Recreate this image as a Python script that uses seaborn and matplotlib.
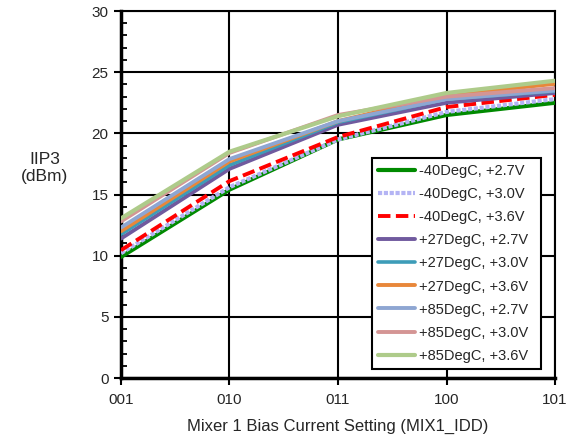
import matplotlib
matplotlib.use("Agg")
import matplotlib.pyplot as plt
import seaborn as sns
import numpy as np
import pandas as pd
from matplotlib.ticker import MultipleLocator

sns.set_theme(style="white")
plt.rcParams['font.family'] = ['Liberation Sans', 'DejaVu Sans']

categories = ["001", "010", "011", "100", "101"]
series_names = ["-40DegC, +2.7V", "-40DegC, +3.0V", "-40DegC, +3.6V",
                "+27DegC, +2.7V", "+27DegC, +3.0V", "+27DegC, +3.6V",
                "+85DegC, +2.7V", "+85DegC, +3.0V", "+85DegC, +3.6V"]

m40_27 = [9.9, 15.4, 19.5, 21.5, 22.5]
m40_30 = [10.2, 15.6, 19.5, 21.75, 22.8]
m40_36 = [10.45, 16.1, 19.7, 22.15, 23.15]
p27_27 = [11.4, 17.1, 20.7, 22.5, 23.3]
p27_30 = [11.75, 17.4, 20.9, 22.8, 23.45]
p27_36 = [12.0, 17.7, 21.0, 23.1, 24.05]
p85_27 = [12.3, 17.9, 21.0, 22.8, 23.5]
p85_30 = [12.8, 18.4, 21.5, 23.0, 23.7]
p85_36 = [13.05, 18.5, 21.4, 23.3, 24.3]

values = [m40_27, m40_30, m40_36, p27_27, p27_30, p27_36, p85_27, p85_30, p85_36]

colors = ["#008A00", "#B4B4F4", "#FF0000", "#705A9E", "#3D9CB8",
          "#E8873A", "#8EA6D2", "#D49594", "#AECB8A"]
styles = ["-", (0, (1, 0.4)), (0, (3.2, 1.4)), "-", "-", "-", "-", "-", "-"]
widths = [3.0, 3.0, 2.8, 2.8, 2.6, 2.8, 2.8, 2.8, 3.0]

fig = plt.figure(figsize=(5.74, 4.44), dpi=100)
ax = fig.add_axes([0.2108, 0.1486, 0.7561, 0.8266])

xpos = np.arange(len(categories))
for name, vals, c, ls, lw in zip(series_names, values, colors, styles, widths):
    df = pd.DataFrame({"x": xpos, "y": vals})
    sns.lineplot(data=df, x="x", y="y", ax=ax, color=c, linestyle=ls,
                 linewidth=lw, label=name, zorder=3)

ax.set_xlim(0, 4)
ax.set_ylim(0, 30)
ax.set_xticks(xpos)
ax.set_xticklabels(categories, fontsize=11)
ax.yaxis.set_major_locator(MultipleLocator(5))
ax.yaxis.set_minor_locator(MultipleLocator(1))
ax.tick_params(axis='y', which='major', direction='out', length=5, width=1.5,
               labelsize=11, left=True, pad=4, color='black')
ax.tick_params(axis='y', which='minor', direction='in', length=4, width=1.3,
               left=True, color='black')
ax.tick_params(axis='x', which='major', direction='out', length=5, width=1.5,
               labelsize=11, bottom=True, pad=6, color='black')
ax.grid(True, which='major', color='black', linewidth=1.5, zorder=1)
ax.set_axisbelow(True)
for s in ax.spines.values():
    s.set_color('black')
    s.set_linewidth(1.5)
ax.spines['left'].set_linewidth(2.5)
ax.spines['bottom'].set_linewidth(2.5)

ax.set_xlabel("Mixer 1 Bias Current Setting (MIX1_IDD)", fontsize=12, labelpad=8)
ax.set_ylabel("")
fig.text(0.078, 0.622, "IIP3\n(dBm)", fontsize=12.5, ha='center', va='center',
         linespacing=1.15)

leg = ax.legend(loc='lower left', bbox_to_anchor=(0.578, 0.024, 0.389, 0.618),
                mode='expand', fontsize=10.5, frameon=True, fancybox=False,
                handlelength=2.5, labelspacing=0.62, borderpad=0.45,
                handletextpad=0.3, borderaxespad=0)
leg.get_frame().set_edgecolor('black')
leg.get_frame().set_linewidth(1.5)
leg.get_frame().set_alpha(1)

fig.savefig("out.png", dpi=100)
